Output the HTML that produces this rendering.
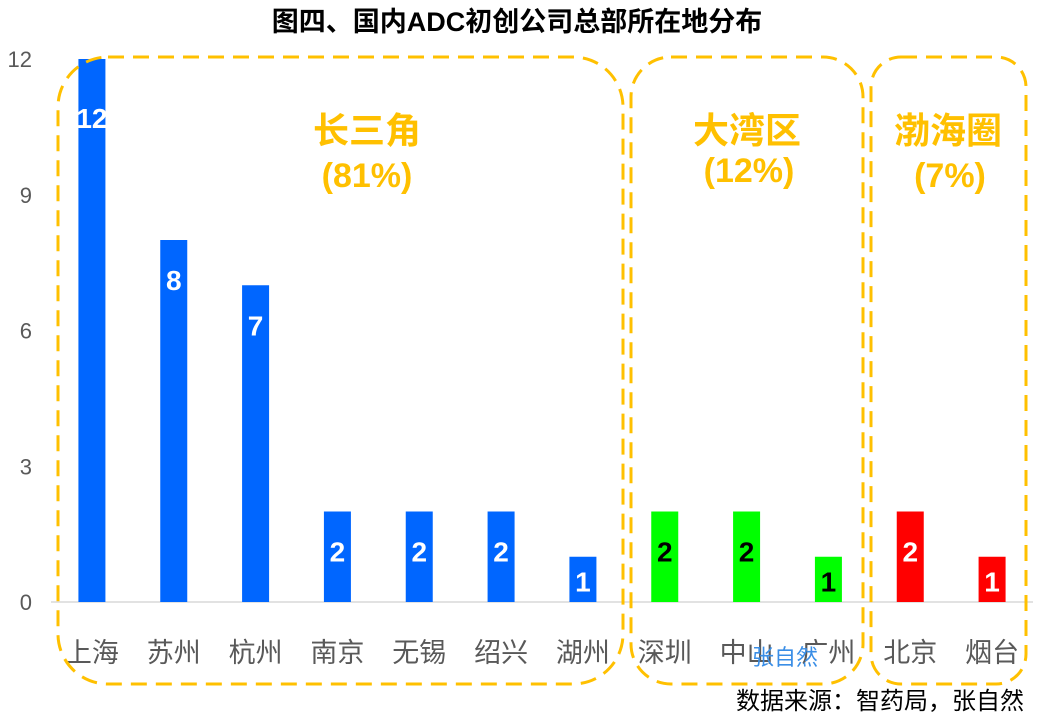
<!DOCTYPE html>
<html><head><meta charset="utf-8"><style>
body{margin:0;background:#fff;}
svg{display:block;font-family:"Liberation Sans","Noto Sans CJK SC",sans-serif;}
</style></head><body>
<svg id="chart" width="1039" height="719" viewBox="0 0 1039 719" xmlns="http://www.w3.org/2000/svg">
<text x="517" y="31" text-anchor="middle" font-size="27" font-weight="bold" fill="#000">图四、国内ADC初创公司总部所在地分布</text>
<g id="grid"></g>
<g id="bars"></g>
<g fill="none" stroke="#FFC000" stroke-width="3" stroke-dasharray="16,9">
<rect x="58" y="57" width="565" height="627" rx="50"/>
<rect x="631" y="57" width="232" height="627" rx="40"/>
<rect x="871" y="57" width="155" height="627" rx="30"/>
</g>
<g font-weight="bold" fill="#FFC000" text-anchor="middle">
<text x="367" y="143" font-size="36">长三角</text>
<text x="367" y="187" font-size="34">(81%)</text>
<text x="747" y="143" font-size="36">大湾区</text>
<text x="749" y="182" font-size="34">(12%)</text>
<text x="948" y="143" font-size="36">渤海圈</text>
<text x="950" y="187" font-size="34">(7%)</text>
</g>
<text x="785" y="665" text-anchor="middle" font-size="22" fill="#3a8ee6">张自然</text>
<text x="1024" y="709" text-anchor="end" font-size="24" fill="#000">数据来源：智药局，张自然</text>
</svg>
<script>
const categories=["上海","苏州","杭州","南京","无锡","绍兴","湖州","深圳","中山","广州","北京","烟台"];
const values=[12,8,7,2,2,2,1,2,2,1,2,1];
const regions=["yrd","yrd","yrd","yrd","yrd","yrd","yrd","gba","gba","gba","bh","bh"];
const yTicks=[0,3,6,9,12];
const colorMap={yrd:"#0066FF",gba:"#00FF00",bh:"#FF0000"};
const labelColor={yrd:"#fff",gba:"#000",bh:"#fff"};
const NS="http://www.w3.org/2000/svg";
const x0=51,x1=1033,y0=602,y1=59,ymax=12;
const step=(x1-x0)/categories.length;
const yS=v=>y0-(y0-y1)*v/ymax;
const xS=i=>x0+step*(i+0.5);
const grid=document.getElementById('grid'),bars=document.getElementById('bars');
function mk(tag,attrs,parent){const e=document.createElementNS(NS,tag);for(const k in attrs)e.setAttribute(k,attrs[k]);parent.appendChild(e);return e;}
const ax=mk('line',{x1:x0,x2:x1,y1:y0,y2:y0,stroke:'#d9d9d9','stroke-width':1.5},grid);


yTicks.forEach(t=>{const e=mk('text',{x:32,y:yS(t)+8,'text-anchor':'end','font-size':22,fill:'#595959'},grid);e.textContent=t;

});
categories.forEach((c,i)=>{
const v=values[i],r=regions[i],cx=xS(i),top=yS(v);
const b=mk('rect',{x:cx-13.5,y:top,width:27,height:y0-top,fill:colorMap[r]},bars);


const ly=Math.min(Math.max(top+50,128),(top+y0)/2+12);
const l=mk('text',{x:cx,y:ly,'text-anchor':'middle','font-size':28,'font-weight':'bold',fill:labelColor[r]},bars);l.textContent=v;


const cl=mk('text',{x:cx,y:662,'text-anchor':'middle','font-size':27,fill:'#595959'},bars);cl.textContent=c;


});
</script>
</body></html>
